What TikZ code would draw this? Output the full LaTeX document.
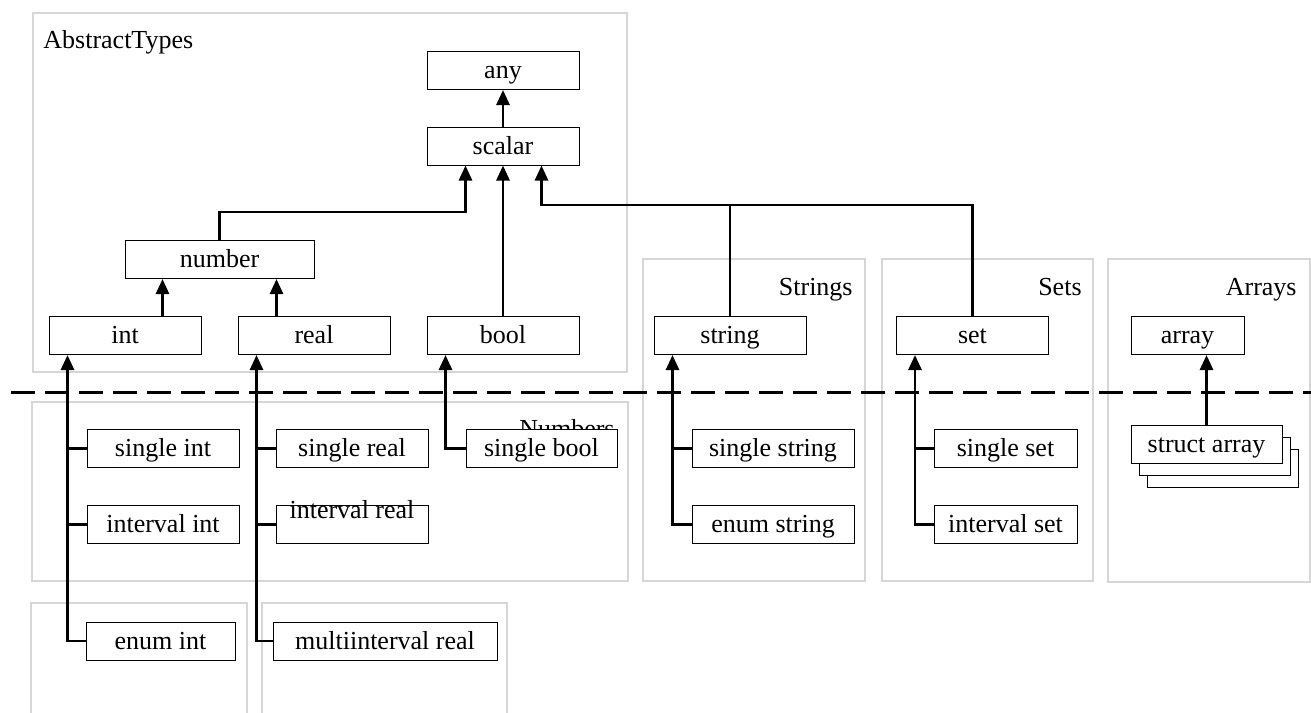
\documentclass[tikz,border=0pt]{standalone}
\usepackage{fontspec}
\setmainfont{Liberation Serif}
\usetikzlibrary{arrows.meta,shadows}
\begin{document}
\begin{tikzpicture}[x=0.5pt, y=-0.5pt,
    tipo/.style={draw=black, line width=0.5pt, fill=white, minimum width=76pt, minimum height=19pt, inner sep=0pt, text height=10pt, text depth=2pt, font=\fontsize{13pt}{15pt}\selectfont},
    marco/.style={draw=black!16, line width=0.6pt},
    titulo/.style={inner sep=0pt, font=\fontsize{13pt}{15pt}\selectfont},
    flecha/.style={line width=1.4pt, -{Triangle[width=6.5pt,length=7.5pt]}},
    rama/.style={line width=1.4pt}]
    \useasboundingbox (0,0) rectangle (1311,712);
    % Marcos
    \draw[marco] (33,13) rectangle (627,372);
    \draw[marco] (32,402) rectangle (628,581);
    \draw[marco] (643,259) rectangle (865,581);
    \draw[marco] (882,259) rectangle (1093,581);
    \draw[marco] (1108,259) rectangle (1310,582);
    \draw[marco] (31,603) rectangle (247,730);
    \draw[marco] (262,603) rectangle (507,730);
    \node[titulo, anchor=base west] (tabs) at (43,48) {AbstractTypes};
    \node[titulo, anchor=base east] (tnum) at (615,437) {Numbers};
    \node[titulo, anchor=base east] (tstr) at (853,295) {Strings};
    \node[titulo, anchor=base east] (tset) at (1082,295) {Sets};
    \node[titulo, anchor=base east] (tarr) at (1297,295) {Arrays};
    % Linea divisoria
    \draw[line width=1.5pt, dash pattern=on 12pt off 5pt] (11,392) -- (1320,392);
    % Tipos abstractos
    \node[tipo] (any) at (503,70.5) {any};
    \node[tipo] (scalar) at (503,146) {scalar};
    \node[tipo, minimum width=94.5pt] (number) at (219.5,259.5) {number};
    \node[tipo] (int) at (125,335.5) {int};
    \node[tipo] (real) at (314,335.5) {real};
    \node[tipo] (bool) at (503,335.5) {bool};
    \node[tipo] (string) at (730,335.5) {string};
    \node[tipo] (set) at (972.5,335.5) {set};
    \node[tipo, minimum width=56.5pt] (array) at (1187.5,335.5) {array};
    % Tipos concretos
    \node[tipo] (singleint) at (163,448.5) {single int};
    \node[tipo] (intervalint) at (163,524.5) {interval int};
    \node[tipo, minimum width=74.5pt] (enumint) at (160.5,641) {enum int};
    \node[tipo] (singlereal) at (352,448.5) {single real};
    \node[tipo] (intervalreal) at (352,524.5) {\smash{\raisebox{7.25pt}{interval real}}};
    \node[tipo, minimum width=112pt] (multireal) at (385,641) {multiinterval real};
    \node[tipo, minimum width=75.5pt] (singlebool) at (541.5,448.5) {single bool};
    \node[tipo, minimum width=81pt] (singlestring) at (773,448.5) {single string};
    \node[tipo, minimum width=81pt] (enumstring) at (773,524.5) {enum string};
    \node[tipo, minimum width=71.5pt] (singleset) at (1005.5,448.5) {single set};
    \node[tipo, minimum width=71.5pt] (intervalset) at (1005.5,524.5) {interval set};
    \node[tipo, minimum width=75.5pt, double copy shadow={shadow xshift=4pt, shadow yshift=-6pt}] (structarray) at (1206.5,444) {struct array};
    % Herencia
    \coordinate (bus) at (0,212);
    \coordinate (bus2) at (0,205);
    \coordinate (sca) at ([xshift=19.5pt]scalar.south west);
    \coordinate (scb) at ([xshift=-19pt]scalar.south east);
    \coordinate (nua) at ([xshift=19pt]number.south west);
    \coordinate (nub) at ([xshift=-19pt]number.south east);
    \draw[flecha] (scalar) -- (any);
    \draw[flecha] (number.north) -- (number.north |- bus) -| (sca);
    \draw[flecha] (bool) -- (scalar);
    \draw[flecha] (string.north) -- (string.north |- bus2) -| (scb);
    \draw[rama] (set.north) -- (set.north |- bus2) -- (string.north |- bus2);
    \draw[flecha] (int.north -| nua) -- (nua);
    \draw[flecha] (real.north -| nub) -- (nub);
    % Enteros
    \coordinate (ia) at ([xshift=9.5pt]int.south west);
    \draw[flecha] (enumint.west) -| (ia);
    \draw[rama] (singleint.west) -- (singleint.west -| ia);
    \draw[rama] (intervalint.west) -- (intervalint.west -| ia);
    % Reales
    \coordinate (ra) at ([xshift=9.5pt]real.south west);
    \draw[flecha] (multireal.west) -| (ra);
    \draw[rama] (singlereal.west) -- (singlereal.west -| ra);
    \draw[rama] (intervalreal.west) -- (intervalreal.west -| ra);
    % Booleanos, cadenas, conjuntos, arreglos
    \draw[flecha] (singlebool.west) -| ([xshift=9.5pt]bool.south west);
    \coordinate (sa) at ([xshift=9.5pt]string.south west);
    \draw[flecha] (enumstring.west) -| (sa);
    \draw[rama] (singlestring.west) -- (singlestring.west -| sa);
    \coordinate (ea) at ([xshift=9.5pt]set.south west);
    \draw[flecha] (intervalset.west) -| (ea);
    \draw[rama] (singleset.west) -- (singleset.west -| ea);
    \draw[flecha] (structarray.north) -- (structarray.north |- array.south);
\end{tikzpicture}
\end{document}
